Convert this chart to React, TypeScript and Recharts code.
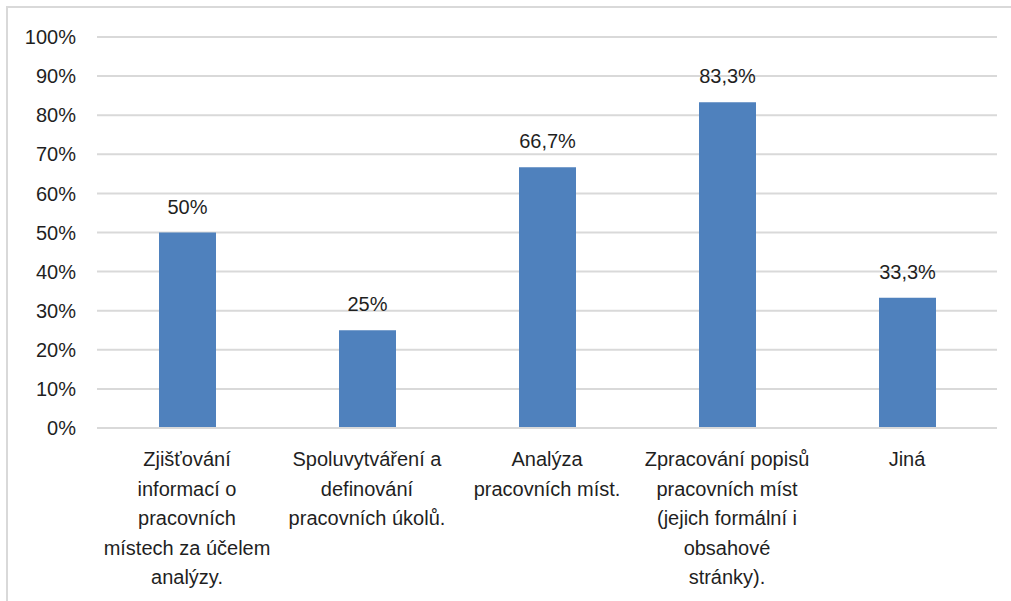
import { BarChart, Bar, XAxis, YAxis, CartesianGrid, LabelList } from 'recharts';

const categories = [
  'Zjišťování\ninformací o\npracovních\nmístech za účelem\nanalýzy.',
  'Spoluvytváření a\ndefinování\npracovních úkolů.',
  'Analýza\npracovních míst.',
  'Zpracování popisů\npracovních míst\n(jejich formální i\nobsahové\nstránky).',
  'Jiná',
];
const shares = [50, 25, 66.7, 83.3, 33.3];
const yTicks = [0, 10, 20, 30, 40, 50, 60, 70, 80, 90, 100];

const data = categories.map((name, i) => ({ name, value: shares[i] }));

const FONT = '"Liberation Sans", Arial, sans-serif';
const TEXT = '#1f1f1f';

const pct = (v: number) => `${String(v).replace('.', ',')}%`;

function CategoryTick(props: any) {
  const { x, y, payload } = props;
  const lines = String(payload.value).split('\n');
  return (
    <text x={x} y={y} textAnchor="middle" fill={TEXT} fontSize={20} fontFamily={FONT}>
      {lines.map((ln, i) => (
        <tspan key={i} x={x} dy={i === 0 ? 30 : 29.5}>{ln}</tspan>
      ))}
    </text>
  );
}

export default function App() {
  return (
    <div style={{ position: 'absolute', left: 0, top: 0, width: 1011, height: 601, background: '#fff', overflow: 'hidden' }}>
      {/* chart frame: only top and left edges show in the crop */}
      <div style={{ position: 'absolute', left: 6, top: 6, width: 1100, height: 700, borderTop: '2px solid #d9d9d9', borderLeft: '2px solid #d9d9d9' }} />
      <div style={{ position: 'absolute', left: 0, top: 0 }}>
        <BarChart
          width={1011}
          height={601}
          data={data}
          margin={{ top: 37, right: 14, left: 0, bottom: 13 }}
          barCategoryGap={0}
        >
          <CartesianGrid vertical={false} stroke="#d9d9d9" strokeWidth={2} />
          <XAxis
            dataKey="name"
            interval={0}
            height={160}
            tickLine={false}
            axisLine={{ stroke: '#d9d9d9', strokeWidth: 2 }}
            tick={<CategoryTick />}
          />
          <YAxis
            width={97}
            domain={[0, 100]}
            ticks={yTicks}
            tickFormatter={(v) => `${v}%`}
            axisLine={false}
            tickLine={false}
            tickSize={0}
            tickMargin={21}
            tick={{ fill: TEXT, fontSize: 20, fontFamily: FONT }}
          />
          <Bar dataKey="value" fill="#4f81bd" barSize={57} isAnimationActive={false}>
            <LabelList
              dataKey="value"
              position="top"
              offset={19}
              formatter={(v: any) => pct(v as number)}
              style={{ fill: TEXT, fontSize: 20, fontFamily: FONT }}
            />
          </Bar>
        </BarChart>
      </div>
    </div>
  );
}
